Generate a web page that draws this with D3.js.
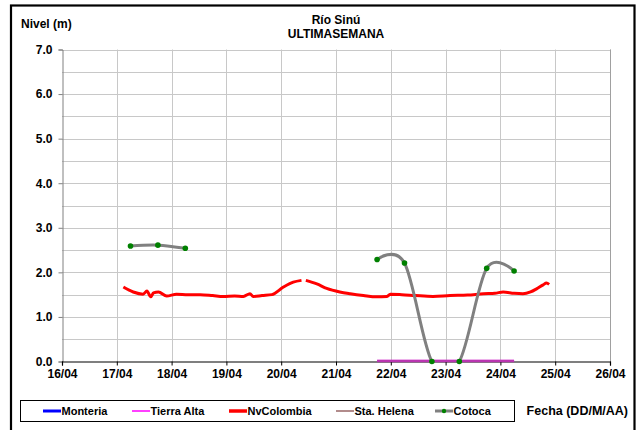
<!DOCTYPE html>
<html><head><meta charset="utf-8">
<script src="https://cdn.jsdelivr.net/npm/d3@7"></script>
<style>
html,body{margin:0;padding:0;background:#fff;}
svg{display:block;font-family:"Liberation Sans",Arial,sans-serif;}
</style></head>
<body><svg id="c" width="640" height="430"></svg>
<script>
// ---- data ----
const dayTicks = [16,17,18,19,20,21,22,23,24,25,26];
const dayLabels = ["16/04","17/04","18/04","19/04","20/04","21/04","22/04","23/04","24/04","25/04","26/04"];
const levelTicks = [0,1,2,3,4,5,6,7];
const levelLabels = ["0.0","1.0","2.0","3.0","4.0","5.0","6.0","7.0"];
const gridLevels = [0.5,1,1.5,2,2.5,3,3.5,4,4.5,5,5.5,6,6.5,7];

const seriesNames = ["Monteria","Tierra Alta","NvColombia","Sta. Helena","Cotoca"];

// NvColombia (day of April, level m); null = gap
const nvDays = [17.12,17.30,17.48,17.55,17.62,17.67,17.76,17.91,18.09,18.30,18.52,18.75,18.94,19.15,19.31,19.43,19.49,19.65,19.83,20.04,20.22,20.37,20.41,20.45,20.65,20.83,21.07,21.26,21.50,21.74,21.93,21.99,22.20,22.45,22.77,23.08,23.40,23.69,23.90,24.05,24.25,24.41,24.55,24.66,24.78,24.84,24.89];
const nvLevel = [1.67,1.56,1.51,1.58,1.45,1.54,1.56,1.47,1.51,1.50,1.50,1.48,1.46,1.47,1.46,1.52,1.46,1.48,1.50,1.67,1.78,1.82,null,1.82,1.74,1.64,1.56,1.52,1.48,1.45,1.46,1.51,1.50,1.48,1.46,1.48,1.49,1.52,1.53,1.56,1.53,1.52,1.56,1.63,1.72,1.76,1.73];

// Cotoca
const cotDays = [17.25,17.75,18.25,18.75,21.75,22.25,22.75,23.25,23.75,24.25];
const cotLevel = [2.59,2.61,2.54,null,2.29,2.21,0.0,0.0,2.09,2.03];

// Tierra Alta
const taDays = [21.75,22.25,22.75,23.25,23.75,24.25];
const taLevel = [0,0,0,0,0,0];

// Sta. Helena
const shDays = [21.75,22.25,22.75,23.25,23.75,24.25];
const shLevel = [0,0,0,0,0,0];

// Monteria (no data in the week)
const monDays = [];
const monLevel = [];

// ---- drawing ----
const svg = d3.select("#c");
const L = 62, R = 610, T = 49.5, B = 361.5;
const x = d3.scaleLinear().domain([16,26]).range([L,R]);
const y = d3.scaleLinear().domain([0,7]).range([B,T]);

// outer frame
svg.append("rect").attr("x",11).attr("y",5.5).attr("width",623.5).attr("height",440)
  .attr("fill","#fff").attr("stroke","#000").attr("stroke-width",2.2);

// gridlines
const g = svg.append("g");
g.selectAll("line.h").data(gridLevels).join("line")
  .attr("x1",L).attr("x2",R).attr("y1",d=>Math.round(y(d))+0.5).attr("y2",d=>Math.round(y(d))+0.5)
  .attr("stroke","#c8c8c8").attr("stroke-width",1);
g.selectAll("line.v").data(dayTicks.slice(1)).join("line")
  .attr("y1",T).attr("y2",B).attr("x1",d=>Math.round(x(d))+0.5).attr("x2",d=>Math.round(x(d))+0.5)
  .attr("stroke","#c8c8c8").attr("stroke-width",1);
// right border of plot
svg.append("line").attr("x1",R+0.5).attr("x2",R+0.5).attr("y1",T).attr("y2",B).attr("stroke","#a0a0a0");

// axes
const yAxis = d3.axisLeft(y).tickValues(levelTicks).tickFormat((d,i)=>levelLabels[i]).tickSize(4).tickPadding(6);
const ya = svg.append("g").attr("transform",`translate(${L+0.5},0)`).call(yAxis);
ya.select(".domain").attr("stroke","#808080");
ya.selectAll(".tick line").attr("stroke","#808080");
ya.selectAll("text").attr("font-size",12).attr("font-weight","bold").attr("fill","#000")
  .attr("font-family","'Liberation Sans',Arial,sans-serif");

const xAxis = d3.axisBottom(x).tickValues(dayTicks).tickFormat((d,i)=>dayLabels[i]).tickSize(4).tickPadding(4);
const xa = svg.append("g").attr("transform",`translate(0,${B})`).call(xAxis);
xa.select(".domain").attr("stroke","#000").attr("stroke-width",1.2);
xa.selectAll(".tick line").attr("stroke","#000");
xa.selectAll("text").attr("font-size",12).attr("font-weight","bold").attr("fill","#000")
  .attr("font-family","'Liberation Sans',Arial,sans-serif");

// clip
svg.append("clipPath").attr("id","clip").append("rect").attr("x",L).attr("y",T-2).attr("width",R-L).attr("height",B-T+3);
const plot = svg.append("g").attr("clip-path","url(#clip)");

function pts(xs,ys){return xs.map((d,i)=>[d,ys[i]]);}
const lineDef = (curve)=>d3.line().defined(d=>d[1]!==null).x(d=>x(d[0])).y(d=>y(d[1])).curve(curve);

// Monteria
plot.append("path").datum(pts(monDays,monLevel)).attr("fill","none").attr("stroke","#0000ff").attr("stroke-width",3)
  .attr("d",lineDef(d3.curveLinear));
// Tierra Alta
plot.append("path").datum(pts(taDays,taLevel)).attr("fill","none").attr("stroke","#ff00ff").attr("stroke-width",2.5)
  .attr("d",lineDef(d3.curveLinear)).attr("transform","translate(0,-0.5)");
// Sta. Helena
plot.append("path").datum(pts(shDays,shLevel)).attr("fill","none").attr("stroke","#806070").attr("stroke-width",2.5).attr("opacity",0.55)
  .attr("d",lineDef(d3.curveLinear)).attr("transform","translate(0,-0.5)");
// NvColombia
plot.append("path").datum(pts(nvDays,nvLevel)).attr("fill","none").attr("stroke","#ff0000").attr("stroke-width",3)
  .attr("stroke-linejoin","round").attr("d",lineDef(d3.curveMonotoneX));
// Cotoca
const cot = pts(cotDays,cotLevel);
plot.append("path").datum(cot).attr("fill","none").attr("stroke","#808080").attr("stroke-width",3)
  .attr("d",lineDef(d3.curveCardinal.tension(0)));
svg.append("g").selectAll("circle").data(cot.filter(d=>d[1]!==null)).join("circle")
  .attr("cx",d=>x(d[0])).attr("cy",d=>y(d[1])).attr("r",2.8).attr("fill","#008000");

// titles
const txt = (s,xx,yy,size,anchor)=>svg.append("text").attr("x",xx).attr("y",yy).attr("font-size",size)
  .attr("font-weight","bold").attr("text-anchor",anchor||"start").attr("fill","#000").text(s);
txt("Nivel (m)",21,28,12);
txt("Río Sinú",336,24,12,"middle");
txt("ULTIMASEMANA",336,38,12,"middle");
txt("Fecha (DD/M/AA)",628,415,12.5,"end");

// legend
svg.append("rect").attr("x",20.5).attr("y",400.5).attr("width",494).attr("height",21).attr("fill","#fff").attr("stroke","#000").attr("stroke-width",1);
const legItems = [
  {name:seriesNames[0], x:43, color:"#0000ff", w:3, dot:false},
  {name:seriesNames[1], x:132, color:"#ff00ff", w:1.5, dot:false},
  {name:seriesNames[2], x:229, color:"#ff0000", w:3.5, dot:false},
  {name:seriesNames[3], x:336, color:"#996666", w:1.5, dot:false},
  {name:seriesNames[4], x:435, color:"#808080", w:3, dot:true}
];
legItems.forEach(it=>{
  svg.append("line").attr("x1",it.x).attr("x2",it.x+18).attr("y1",411).attr("y2",411).attr("stroke",it.color).attr("stroke-width",it.w);
  if(it.dot) svg.append("circle").attr("cx",it.x+9).attr("cy",411).attr("r",2.2).attr("fill","#008000");
  svg.append("text").attr("x",it.x+18.5).attr("y",415).attr("font-size",11).attr("font-weight","bold").attr("fill","#000").text(it.name);
});
</script></body></html>
